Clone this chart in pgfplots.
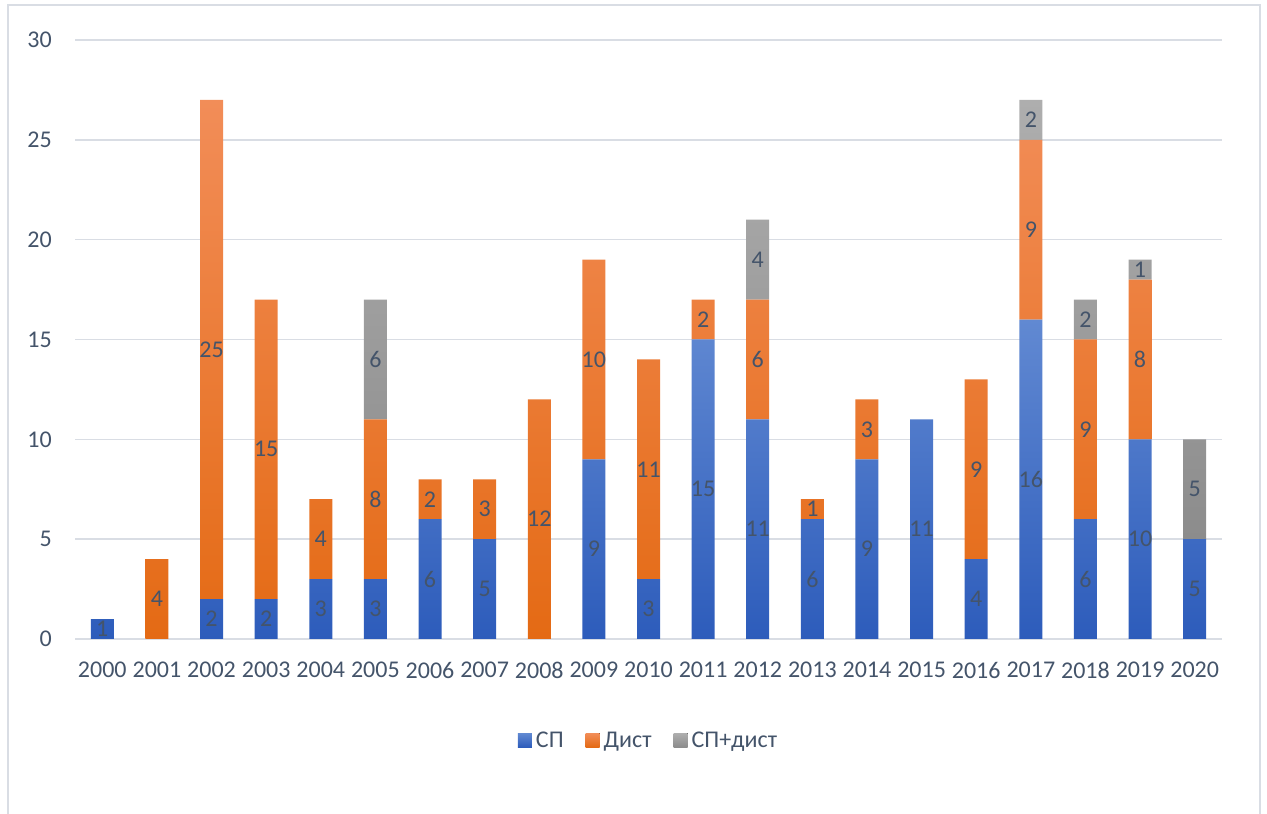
\documentclass[border=0pt]{standalone}
\usepackage{pgfplots}
\pgfplotsset{compat=1.18}
\usepackage{pgfplotstable}
\usepackage{fontspec}
\setmainfont{Carlito}
\definecolor{txt}{HTML}{44546A}
\definecolor{gridc}{HTML}{D9DDE4}
\definecolor{bluetop}{HTML}{6189D2}
\definecolor{bluebot}{HTML}{2D5CBB}
\definecolor{ortop}{HTML}{F28D58}
\definecolor{orbot}{HTML}{E46A14}
\definecolor{grtop}{HTML}{AEAEAE}
\definecolor{grbot}{HTML}{8C8C8C}
\pgfplotstableread{
x sp dist mix
0 1 0 0
1 0 4 0
2 2 25 0
3 2 15 0
4 3 4 0
5 3 8 6
6 6 2 0
7 5 3 0
8 0 12 0
9 9 10 0
10 3 11 0
11 15 2 0
12 11 6 4
13 6 1 0
14 9 3 0
15 11 0 0
16 4 9 0
17 16 9 2
18 6 9 2
19 10 8 1
20 5 0 5
}\data
\begin{document}
\begin{tikzpicture}
\path[use as bounding box] (0,0) rectangle (1267pt,814pt);
\draw[gridc, line width=1.5pt] (8pt,0) -- (8pt,809pt) -- (1260pt,809pt) -- (1260pt,0);
\begin{axis}[
  at={(75pt,175pt)}, anchor=south west,
  scale only axis, width=1147pt, height=599pt,
  ybar stacked, bar width=23pt,
  xmin=-0.5, xmax=20.5, ymin=0, ymax=30,
  xtick={0,1,...,20},
  xticklabels={2000,2001,2002,2003,2004,2005,2006,2007,2008,2009,2010,2011,2012,2013,2014,2015,2016,2017,2018,2019,2020},
  ytick={0,5,...,30},
  ymajorgrids, grid style={gridc, line width=1.5pt},
  axis line style={draw=none},
  major tick length=0pt,
  /pgf/number format/assume math mode=true,
  tick label style={font=\fontsize{24}{28}\selectfont, text=txt, inner sep=0pt},
  yticklabel style={anchor=east, xshift=-23pt},
  xticklabel style={anchor=north, yshift=-23pt},
  point meta=explicit symbolic,
  nodes near coords={\ifdim\pgfplotspointmeta pt=0pt\else\pgfplotspointmeta\fi},
  every node near coord/.append style={font=\fontsize{24}{28}\selectfont, text=txt, anchor=center, inner sep=0pt},
  legend style={draw=none, fill=none, legend columns=3, font=\fontsize{24}{28}\selectfont, text=txt,
    at={(0.5,-0.169)}, anchor=center, nodes={inner sep=2pt},
    /tikz/every even column/.append style={column sep=20pt},
    /tikz/every odd column/.append style={column sep=2pt}},
  legend image code/.code={\fill[#1] (0pt,-7pt) rectangle (14pt,7pt);},
]
\addplot[draw=none, top color=bluetop, bottom color=bluebot] table[x=x, y=sp, meta=sp] {\data};
\addplot[draw=none, top color=ortop, bottom color=orbot] table[x=x, y=dist, meta=dist] {\data};
\addplot[draw=none, top color=grtop, bottom color=grbot] table[x=x, y=mix, meta=mix] {\data};
\legend{СП, Дист, СП+дист}
\end{axis}
\end{tikzpicture}
\end{document}
